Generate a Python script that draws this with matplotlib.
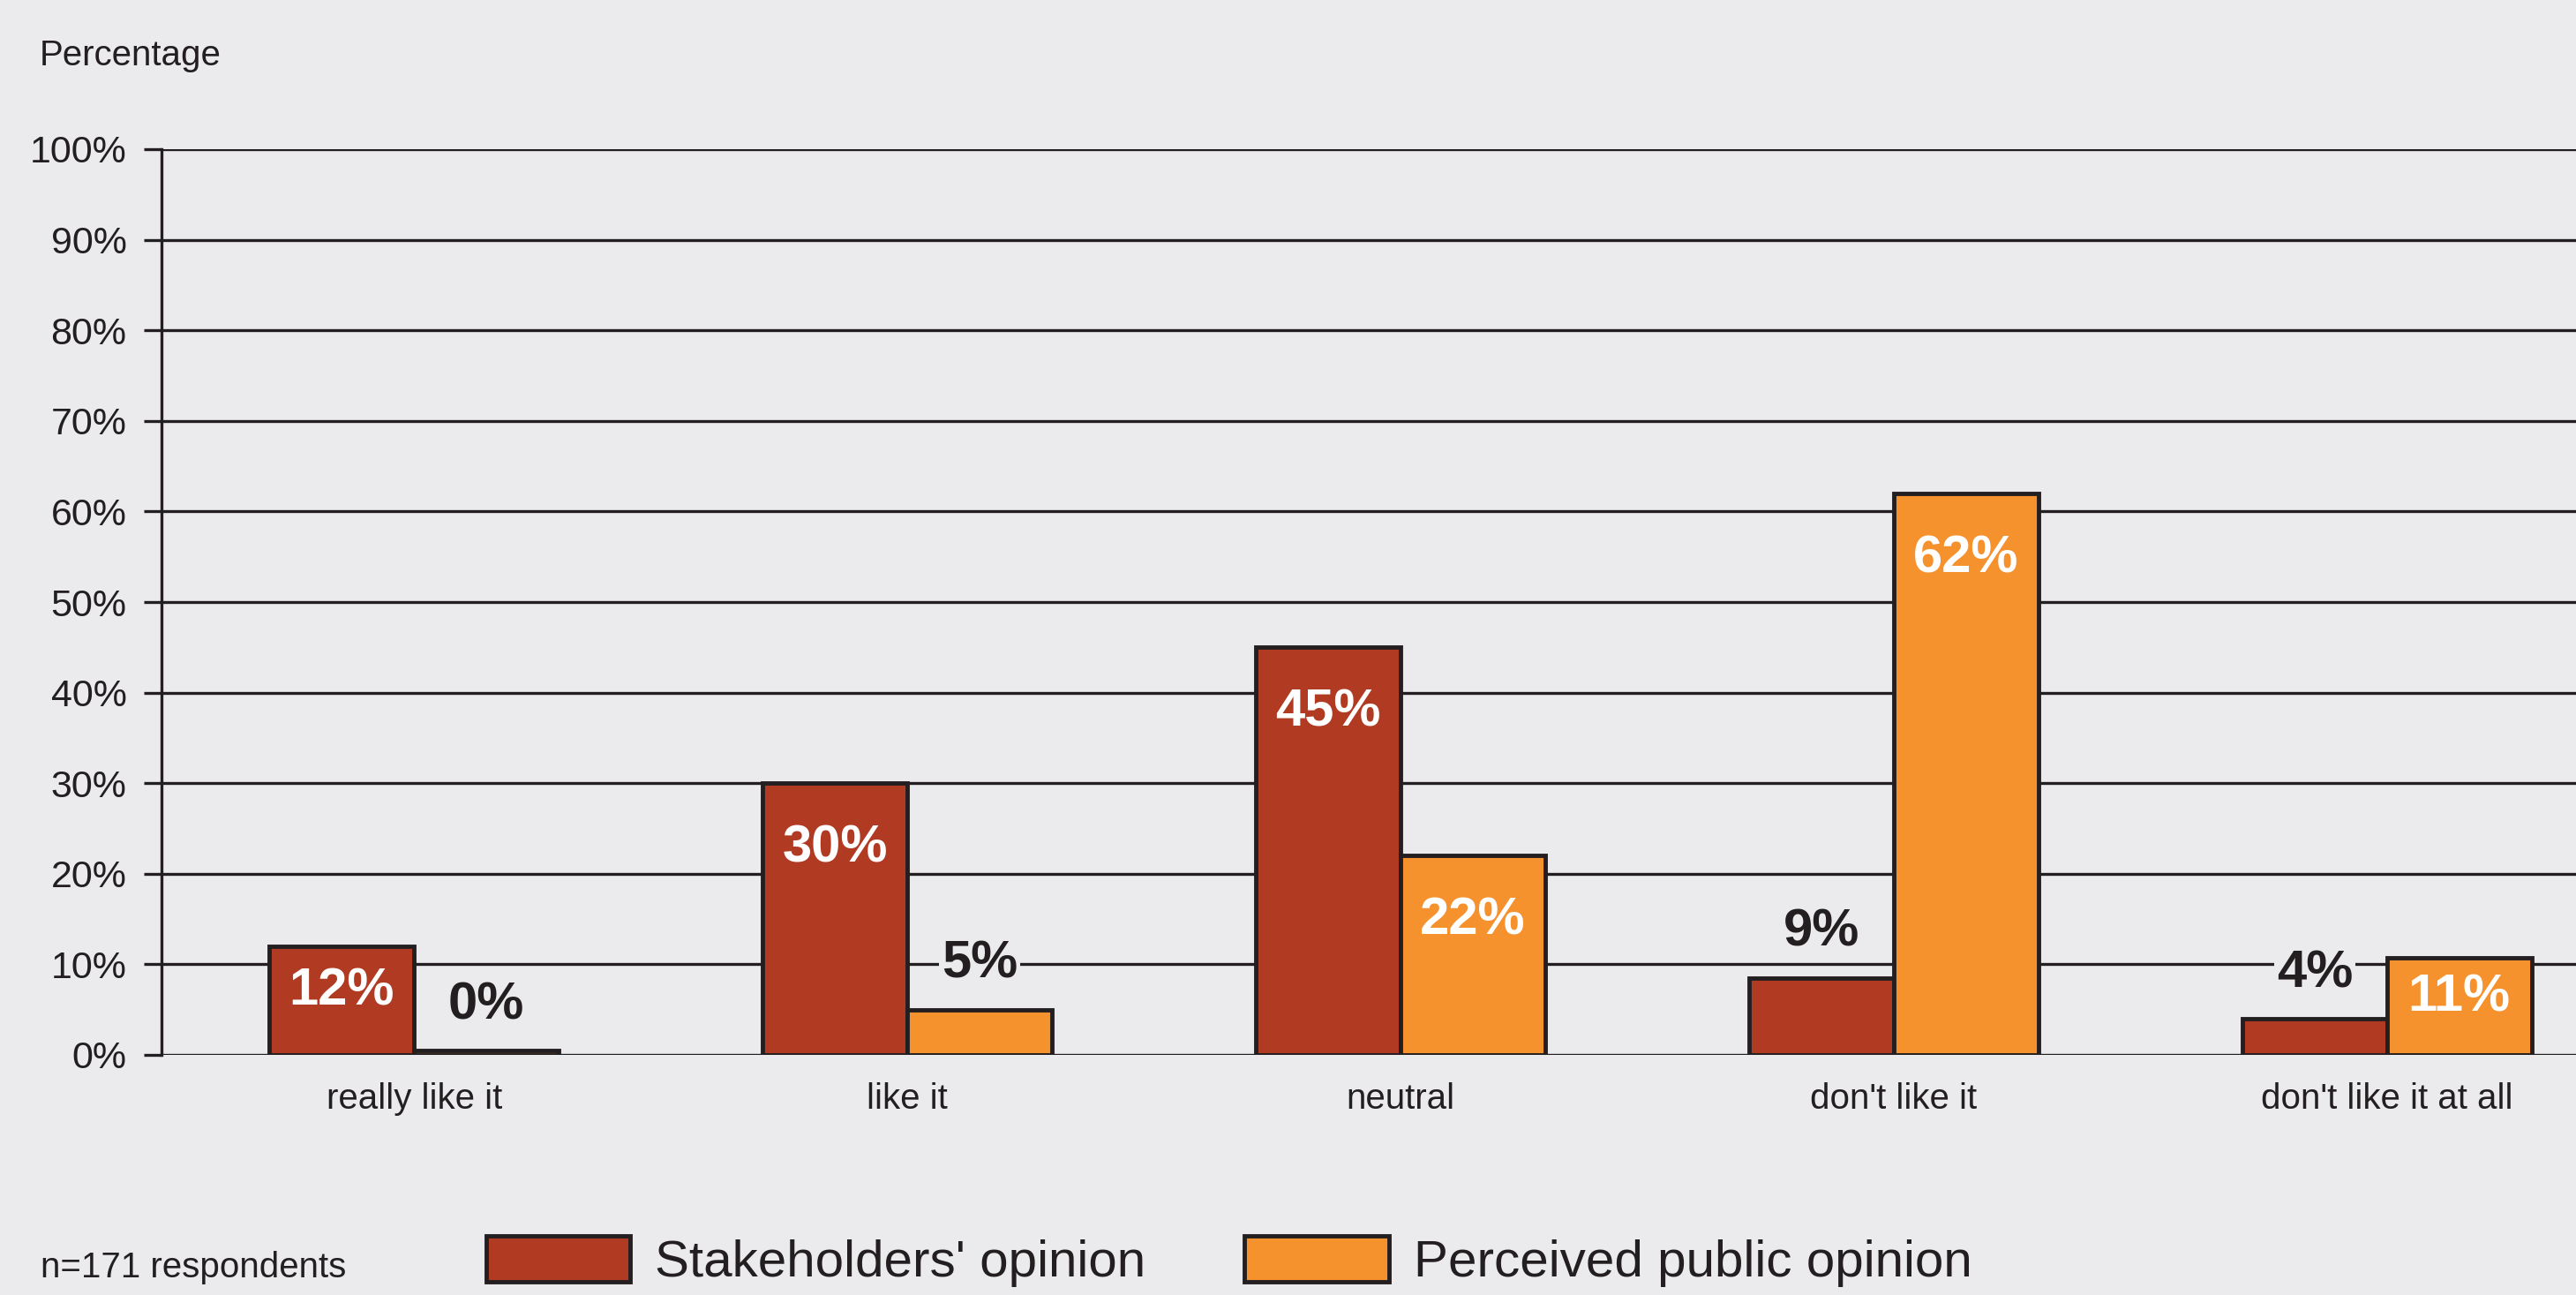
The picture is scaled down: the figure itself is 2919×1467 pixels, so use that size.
import matplotlib
matplotlib.use("Agg")
import matplotlib.pyplot as plt
import numpy as np

# ── data ──────────────────────────────────────────────────────────────────────
categories = ["really like it", "like it", "neutral", "don't like it", "don't like it at all"]
stakeholders = [12, 30, 45, 8.5, 4]
public = [0.5, 5, 22, 62, 10.7]
stakeholder_labels = ["12%", "30%", "45%", "9%", "4%"]
public_labels = ["0%", "5%", "22%", "62%", "11%"]
yticks = [0, 10, 20, 30, 40, 50, 60, 70, 80, 90, 100]

# ── style ─────────────────────────────────────────────────────────────────────
BG = "#EBEBED"
DARK = "#231F20"
RED = "#B03A22"
ORANGE = "#F6922E"
plt.rcParams["font.family"] = ["Liberation Sans", "DejaVu Sans"]

fig = plt.figure(figsize=(29.19, 14.67), dpi=100, facecolor=BG)
ax = fig.add_axes([183 / 2919, 1 - 1195 / 1467, 1 - 183 / 2919, (1195 - 169) / 1467])
ax.set_facecolor(BG)

x = np.arange(len(categories))
w = 0.293
b1 = ax.bar(x - w / 2, stakeholders, w, color=RED, edgecolor=DARK, linewidth=3.5,
            label="Stakeholders' opinion", zorder=3)
b2 = ax.bar(x + w / 2, public, w, color=ORANGE, edgecolor=DARK, linewidth=3.5,
            label="Perceived public opinion", zorder=3)

# value labels: inside (white) for big bars, above (black) for small ones
for bars, vals, labs in [(b1, stakeholders, stakeholder_labels), (b2, public, public_labels)]:
    for rect, v, lab in zip(bars, vals, labs):
        cx = rect.get_x() + rect.get_width() / 2
        if v >= 10:
            ax.text(cx, max(v - 7.2, v / 2 + 1), lab, ha="center", va="center",
                    color="white", fontsize=43, fontweight="bold", zorder=4)
        else:
            ax.text(cx, v + 5.0, lab, ha="center", va="center", color=DARK,
                    fontsize=43, fontweight="bold", zorder=4,
                    bbox=dict(facecolor=BG, edgecolor="none", pad=2))

ax.set_xlim(-0.512, 4.383)
ax.set_ylim(0, 100)
ax.set_yticks(yticks)
ax.set_yticklabels([f"{t}%" for t in yticks])
ax.set_xticks(x)
ax.set_xticklabels(categories)
ax.yaxis.grid(True, color=DARK, linewidth=2.4)
ax.set_axisbelow(True)

for s in ["top", "right", "bottom"]:
    ax.spines[s].set_visible(False)
ax.spines["left"].set_color(DARK)
ax.spines["left"].set_linewidth(2.4)

ax.tick_params(axis="y", length=14.5, width=2.4, color=DARK, pad=14,
               labelsize=31, labelcolor=DARK)
ax.tick_params(axis="x", length=0, pad=22, labelsize=29, labelcolor=DARK)

fig.text(45 / 2919, 1 - 63 / 1467, "Percentage", fontsize=29, color=DARK,
         ha="left", va="center")
fig.text(46 / 2919, 1 - 1436 / 1467, "n=171 respondents", fontsize=29, color=DARK,
         ha="left", va="center")

fig.legend(handles=[b1, b2], loc="lower left", bbox_to_anchor=(551 / 2919, 0.006),
           ncol=2, frameon=False, fontsize=42, borderpad=0, borderaxespad=0,
           handlelength=2.8, handleheight=1.0, handletextpad=0.48,
           columnspacing=1.92, labelcolor=DARK)

plt.savefig("out.png", dpi=100, facecolor=BG)
